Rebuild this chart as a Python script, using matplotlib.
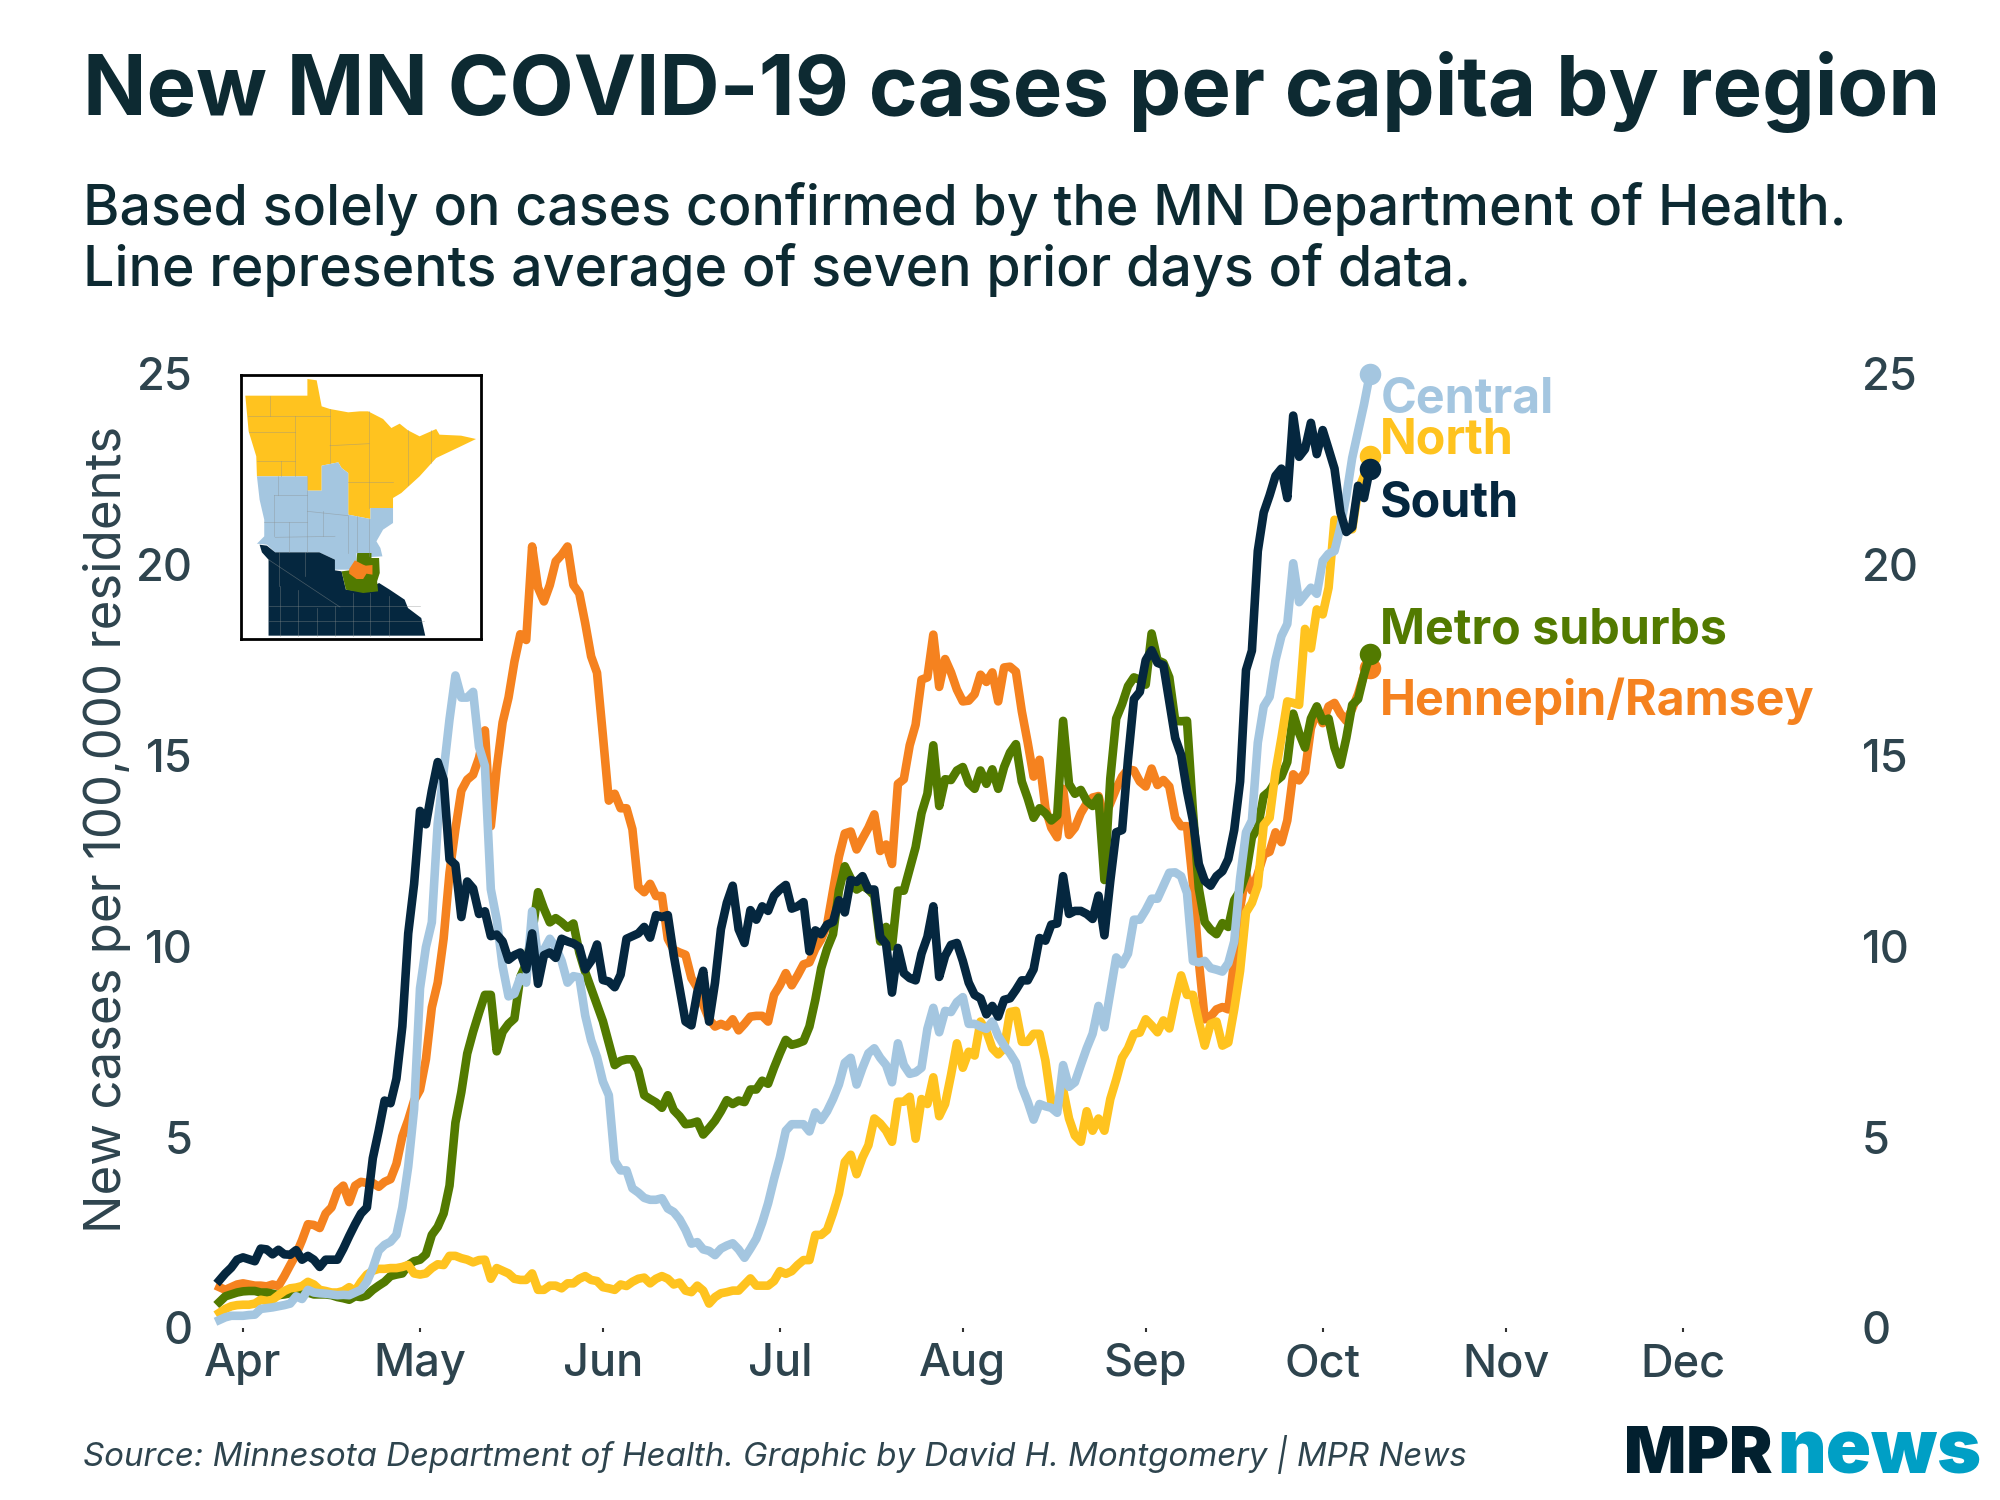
import matplotlib
matplotlib.use('Agg')
import matplotlib.pyplot as plt
import pandas as pd
from matplotlib.patches import Polygon

plt.rcParams['font.family'] = ['Inter', 'DejaVu Sans']
plt.rcParams['font.weight'] = 'medium'

start_date = '2020-03-28'

# daily values, cases per 100k
hennepin = [
    1.07, 1.0, 1.07, 1.14, 1.17, 1.14, 1.11, 1.11, 1.09, 1.14, 1.1, 1.36, 1.65, 1.93, 2.3, 2.72, 2.7, 2.62, 3.0, 3.16,
    3.59, 3.73, 3.3, 3.73, 3.83, 3.8, 3.8, 3.7, 3.83, 3.9, 4.3, 5.02, 5.45, 5.96, 6.24, 7.04, 8.4, 9.05, 10.2, 11.93,
    13.07, 14.08, 14.37, 14.5, 14.94, 15.66, 13.15, 14.66, 15.87, 16.52, 17.46, 18.18, 18.03, 20.48, 19.4, 19.04, 19.47, 20.09, 20.26, 20.48,
    19.47, 19.25, 18.47, 17.6, 17.17, 15.52, 13.82, 14.0, 13.62, 13.62, 13.07, 11.56, 11.42, 11.64, 11.32, 11.32, 10.2, 9.91, 9.84, 9.78,
    9.17, 8.92, 8.47, 8.09, 7.9, 7.97, 7.9, 8.09, 7.8, 7.97, 8.16, 8.18, 8.18, 8.03, 8.73, 8.98, 9.3, 8.98, 9.24, 9.53,
    9.58, 9.94, 10.19, 10.57, 11.46, 12.35, 12.96, 13.01, 12.54, 12.83, 13.11, 13.46, 12.5, 12.67, 12.16, 14.26, 14.38, 15.27, 15.81, 16.99,
    17.05, 18.17, 16.8, 17.53, 17.18, 16.73, 16.42, 16.44, 16.61, 17.12, 16.93, 17.18, 16.42, 17.31, 17.33, 17.2, 16.16, 15.34, 14.45, 14.89,
    13.62, 13.11, 12.86, 14.13, 12.92, 13.11, 13.49, 13.75, 13.9, 13.94, 13.37, 13.75, 14.13, 14.45, 14.64, 14.61, 14.32, 14.19, 14.66, 14.23,
    14.36, 14.19, 13.37, 13.15, 13.15, 11.65, 9.62, 8.09, 8.16, 8.35, 8.41, 8.35, 9.62, 11.0, 11.9, 11.46, 11.9, 12.41, 12.48, 12.99,
    12.73, 13.3, 14.51, 14.35, 14.57, 15.72, 16.16, 15.85, 16.29, 16.38, 16.1, 15.91, 16.23, 16.61, 17.12, 17.29,
]
suburbs = [
    0.68, 0.83, 0.88, 0.93, 0.96, 0.97, 0.97, 0.93, 0.93, 0.9, 0.86, 0.88, 0.91, 0.93, 0.91, 0.93, 0.88, 0.88, 0.88, 0.86,
    0.81, 0.78, 0.74, 0.83, 0.81, 0.86, 1.0, 1.11, 1.21, 1.36, 1.4, 1.43, 1.65, 1.75, 1.79, 1.93, 2.44, 2.65, 3.0, 3.73,
    5.38, 6.18, 7.19, 7.76, 8.26, 8.73, 8.73, 7.25, 7.76, 7.97, 8.11, 9.2, 9.55, 10.34, 11.42, 10.99, 10.63, 10.74, 10.63, 10.49,
    10.6, 9.84, 9.33, 8.9, 8.47, 8.04, 7.47, 6.89, 7.0, 7.04, 7.04, 6.75, 6.1, 6.0, 5.91, 5.77, 6.1, 5.71, 5.55, 5.34,
    5.36, 5.41, 5.07, 5.24, 5.43, 5.68, 5.97, 5.87, 5.96, 5.92, 6.25, 6.25, 6.48, 6.4, 6.82, 7.2, 7.55, 7.42, 7.46, 7.52,
    7.9, 8.6, 9.43, 9.94, 10.32, 11.46, 12.1, 11.78, 11.49, 11.59, 11.49, 11.33, 10.13, 10.51, 10.0, 11.46, 11.46, 12.03, 12.6, 13.49,
    14.0, 15.27, 13.68, 14.38, 14.36, 14.61, 14.7, 14.28, 14.13, 14.61, 14.26, 14.64, 14.13, 14.7, 15.08, 15.3, 14.32, 13.88, 13.37, 13.62,
    13.49, 13.3, 13.43, 15.91, 14.26, 14.0, 14.1, 13.81, 13.68, 13.9, 11.74, 14.4, 15.97, 16.35, 16.82, 17.05, 16.99, 16.86, 18.2, 17.5,
    17.43, 17.05, 15.91, 15.9, 15.91, 13.56, 11.52, 10.64, 10.44, 10.32, 10.61, 10.51, 11.21, 11.46, 11.9, 12.86, 13.11, 13.94, 14.07, 14.32,
    14.45, 14.83, 16.1, 15.59, 15.21, 15.97, 16.29, 15.91, 15.97, 15.21, 14.76, 15.46, 16.33, 16.48, 17.12, 17.65,
]
north = [
    0.4, 0.5, 0.57, 0.6, 0.61, 0.61, 0.64, 0.74, 0.71, 0.74, 0.86, 0.97, 1.04, 1.06, 1.1, 1.21, 1.14, 1.0, 0.97, 0.93,
    0.93, 0.97, 1.07, 0.97, 1.21, 1.4, 1.5, 1.55, 1.55, 1.57, 1.57, 1.6, 1.65, 1.43, 1.4, 1.43, 1.57, 1.67, 1.65, 1.89,
    1.89, 1.83, 1.79, 1.72, 1.78, 1.79, 1.29, 1.57, 1.5, 1.43, 1.29, 1.26, 1.26, 1.43, 1.0, 1.0, 1.11, 1.11, 1.04, 1.17,
    1.17, 1.29, 1.36, 1.26, 1.23, 1.07, 1.04, 1.0, 1.14, 1.1, 1.21, 1.29, 1.32, 1.17, 1.29, 1.36, 1.29, 1.14, 1.19, 0.98,
    0.94, 1.11, 0.98, 0.64, 0.81, 0.91, 0.94, 0.98, 0.98, 1.14, 1.3, 1.11, 1.11, 1.11, 1.23, 1.49, 1.42, 1.49, 1.65, 1.78,
    1.78, 2.44, 2.44, 2.57, 3.01, 3.52, 4.35, 4.54, 4.03, 4.47, 4.79, 5.49, 5.36, 5.17, 4.88, 5.93, 5.93, 6.06, 4.96, 6.0,
    5.87, 6.57, 5.55, 5.87, 6.63, 7.46, 6.82, 7.24, 7.14, 8.03, 7.78, 7.33, 7.17, 7.33, 8.28, 8.31, 7.5, 7.5, 7.71, 7.71,
    7.01, 5.93, 5.81, 6.25, 5.49, 5.04, 4.88, 5.68, 5.17, 5.49, 5.17, 6.0, 6.51, 7.08, 7.33, 7.71, 7.74, 8.09, 7.93, 7.75,
    8.06, 7.85, 8.6, 9.24, 8.73, 8.73, 8.03, 7.4, 7.97, 8.03, 7.4, 7.48, 8.35, 9.36, 10.89, 11.14, 11.59, 13.18, 13.37, 14.57,
    15.46, 16.42, 16.38, 16.33, 18.32, 17.81, 18.83, 18.7, 19.4, 21.18, 21.12, 20.93, 20.93, 21.94, 22.33, 22.86,
]
central = [
    0.21, 0.28, 0.32, 0.32, 0.32, 0.34, 0.35, 0.5, 0.52, 0.54, 0.57, 0.6, 0.64, 0.83, 0.76, 1.0, 0.93, 0.91, 0.9, 0.88,
    0.86, 0.87, 0.86, 0.93, 1.0, 1.21, 1.57, 2.03, 2.18, 2.26, 2.44, 3.16, 4.23, 5.74, 8.9, 9.98, 10.63, 13.22, 14.58, 15.95,
    17.1, 16.52, 16.52, 16.67, 15.23, 14.73, 11.5, 10.7, 9.48, 8.69, 8.76, 9.19, 9.05, 10.92, 9.7, 9.91, 10.2, 9.98, 9.62, 9.05,
    9.22, 9.19, 8.19, 7.54, 7.1, 6.46, 6.1, 4.38, 4.13, 4.13, 3.66, 3.55, 3.41, 3.36, 3.36, 3.4, 3.13, 3.04, 2.85, 2.57,
    2.21, 2.25, 2.06, 2.02, 1.91, 2.08, 2.16, 2.22, 2.06, 1.84, 2.08, 2.34, 2.76, 3.27, 3.9, 4.47, 5.17, 5.34, 5.34, 5.34,
    5.15, 5.65, 5.45, 5.68, 6.0, 6.38, 6.95, 7.08, 6.38, 6.82, 7.2, 7.33, 7.08, 6.89, 6.44, 7.46, 6.89, 6.66, 6.7, 6.82,
    7.84, 8.39, 7.75, 8.31, 8.28, 8.54, 8.67, 7.97, 7.97, 7.9, 7.84, 8.03, 7.65, 7.4, 7.2, 6.95, 6.32, 5.93, 5.46, 5.87,
    5.81, 5.77, 5.64, 6.89, 6.32, 6.44, 6.89, 7.33, 7.71, 8.44, 7.88, 8.79, 9.71, 9.53, 9.81, 10.7, 10.7, 10.95, 11.25, 11.25,
    11.59, 11.93, 11.94, 11.84, 11.4, 9.62, 9.58, 9.62, 9.43, 9.39, 9.34, 9.56, 10.13, 11.78, 12.99, 13.3, 15.34, 16.29, 16.54, 17.5,
    18.13, 18.45, 20.04, 19.02, 19.21, 19.4, 19.24, 20.1, 20.29, 20.36, 20.99, 21.8, 22.8, 23.5, 24.2, 25.0,
]
south = [
    1.25, 1.43, 1.58, 1.79, 1.85, 1.8, 1.75, 2.08, 2.06, 1.93, 2.05, 1.93, 1.92, 2.04, 1.79, 1.89, 1.79, 1.6, 1.79, 1.79,
    1.79, 2.08, 2.41, 2.72, 3.0, 3.16, 4.45, 5.17, 5.96, 5.89, 6.53, 7.9, 10.34, 11.64, 13.55, 13.2, 14.08, 14.83, 14.37, 12.28,
    12.14, 10.77, 11.7, 11.52, 10.85, 10.92, 10.27, 10.31, 10.13, 9.65, 9.77, 9.84, 9.4, 10.34, 9.02, 9.77, 9.84, 9.7, 10.2, 10.13,
    10.08, 9.98, 9.4, 9.62, 10.05, 9.12, 9.08, 8.93, 9.26, 10.2, 10.27, 10.34, 10.51, 10.23, 10.82, 10.77, 10.82, 9.77, 8.9, 8.03,
    7.93, 8.8, 9.36, 8.03, 9.05, 10.45, 11.14, 11.59, 10.45, 10.09, 10.95, 10.7, 11.05, 10.93, 11.33, 11.49, 11.61, 10.99, 11.05, 11.16,
    9.87, 10.42, 10.32, 10.57, 10.64, 11.21, 10.89, 11.74, 11.69, 11.84, 11.49, 11.49, 10.25, 10.06, 8.79, 9.96, 9.3, 9.17, 9.11, 9.81,
    10.25, 11.05, 9.2, 9.75, 10.04, 10.09, 9.62, 9.05, 8.73, 8.64, 8.22, 8.44, 8.16, 8.6, 8.64, 8.86, 9.11, 9.11, 9.4, 10.22,
    10.15, 10.57, 10.6, 11.84, 10.85, 10.93, 10.93, 10.85, 10.72, 11.33, 10.29, 11.72, 12.99, 13.05, 14.9, 16.48, 16.67, 17.5, 17.76, 17.43,
    17.37, 16.42, 15.46, 15.02, 14.07, 13.3, 12.16, 11.72, 11.59, 11.84, 11.97, 12.29, 13.05, 14.32, 17.24, 17.75, 20.36, 21.37, 21.82, 22.33,
    22.52, 21.75, 23.91, 22.83, 23.03, 23.72, 22.9, 23.53, 23.03, 22.52, 21.37, 20.86, 20.99, 22.07, 21.75, 22.52,
]

series_names = ['Hennepin/Ramsey', 'Metro suburbs', 'North', 'Central', 'South']
series_colors = ['#F5821F', '#527A00', '#FFC31F', '#A4C6E0', '#05273F']
label_values = [16.42, 18.27, 23.25, 24.32, 21.6]
month_ticks = ['2020-04-01', '2020-05-01', '2020-06-01', '2020-07-01', '2020-08-01',
               '2020-09-01', '2020-10-01', '2020-11-01', '2020-12-01']
month_labels = ['Apr', 'May', 'Jun', 'Jul', 'Aug', 'Sep', 'Oct', 'Nov', 'Dec']
y_ticks = [0, 5, 10, 15, 20, 25]

# rough county map for the inset, in pixels of the little picture
map_north = [(75, 108), (262, 108), (262, 58), (290, 62), (305, 140), (330, 148), (385, 158), (420, 155), (445, 155),
             (490, 178), (515, 205), (540, 192), (565, 212), (600, 230), (650, 208), (660, 225), (725, 228), (770, 238),
             (720, 262), (650, 295), (600, 350), (545, 400), (520, 415), (520, 445), (452, 445), (452, 478), (385, 465),
             (385, 340), (365, 325), (355, 308), (305, 318), (305, 393), (262, 393), (262, 350), (110, 350), (108, 290), (85, 215)]
map_central = [(110, 350), (262, 350), (262, 393), (305, 393), (305, 318), (355, 308), (365, 325), (385, 340), (385, 465),
               (452, 478), (452, 445), (520, 445), (520, 490), (490, 510), (470, 545), (482, 565), (488, 590), (455, 592),
               (410, 580), (410, 610), (395, 630), (345, 630), (345, 600), (298, 578), (165, 578), (140, 555), (110, 552),
               (132, 530), (132, 480), (118, 420)]
map_south = [(118, 555), (140, 558), (165, 578), (298, 578), (345, 600), (345, 632), (365, 635), (378, 690), (430, 695),
             (478, 670), (510, 690), (555, 720), (565, 745), (605, 775), (617, 828), (145, 828), (145, 600), (125, 578)]
map_suburbs = [(412, 580), (455, 580), (455, 595), (478, 595), (480, 640), (472, 665), (475, 695), (430, 700), (378, 690),
               (365, 635), (388, 632), (410, 605)]
map_hennepin = [(388, 628), (405, 602), (430, 615), (438, 618), (458, 616), (458, 645), (440, 642), (430, 658), (410, 658), (388, 642)]
county_lines = [((150, 108), (150, 168)), ((82, 168), (330, 168)), ((225, 168), (225, 350)), ((330, 148), (330, 310)),
                ((448, 155), (448, 445)), ((330, 258), (448, 252)), ((385, 368), (520, 368)), ((565, 212), (565, 375)),
                ((635, 210), (635, 310)), ((85, 218), (225, 218)), ((110, 305), (225, 305)), ((182, 305), (182, 350)),
                ((172, 350), (172, 405)), ((162, 405), (262, 405)), ((162, 405), (162, 530)), ((132, 488), (262, 488)),
                ((208, 488), (208, 578)), ((262, 350), (262, 578)), ((165, 533), (345, 530)), ((262, 455), (385, 468)),
                ((308, 455), (308, 530)), ((385, 468), (385, 580)), ((412, 470), (412, 580)), ((448, 478), (448, 590)),
                ((145, 738), (600, 738)), ((145, 785), (612, 785)), ((180, 680), (180, 828)), ((235, 690), (235, 828)),
                ((290, 745), (290, 828)), ((345, 740), (345, 828)), ((400, 700), (400, 828)), ((452, 700), (452, 828)),
                ((507, 710), (507, 828)), ((145, 600), (360, 742)), ((175, 578), (175, 680)), ((255, 578), (255, 650))]

dates = pd.date_range(start_date, periods=len(south))
all_series = [hennepin, suburbs, north, central, south]

fig = plt.figure(figsize=(20, 15), dpi=100, facecolor='white')
ax = fig.add_axes([200 / 2000, 1 - 1328 / 1500, 1650 / 2000, 954 / 1500])

for name, values, color, label_y in zip(series_names, all_series, series_colors, label_values):
    ax.plot(dates, values, color=color, lw=6.2, solid_joinstyle='round', clip_on=False)
    ax.plot(dates[-1], values[-1], 'o', color=color, ms=15.5, mew=0, clip_on=False)
    ax.annotate(name, (dates[-1], label_y), xytext=(7.5, 0), textcoords='offset points', color=color,
                fontsize=34.8, fontweight='bold', va='center', ha='left')

ax.set_xlim(pd.Timestamp('2020-03-24 17:00'), pd.Timestamp('2020-12-29 09:00'))
ax.set_ylim(0, 25)
ax.set_xticks(pd.to_datetime(month_ticks))
ax.set_xticklabels(month_labels)
ax.set_yticks(y_ticks)
ax.tick_params(axis='x', length=3, width=1.5, color='#333333', labelsize=32.5, labelcolor='#2E444E', pad=8)
ax.tick_params(axis='y', length=0, labelsize=32.5, labelcolor='#2E444E', pad=5)
ax.set_ylabel('New cases per 100,000 residents', fontsize=36.7, color='#2E444E')
ax.yaxis.set_label_coords(-0.042, 0.523)
for s in ax.spines.values():
    s.set_visible(False)

ax2 = ax.twinx()
ax2.set_ylim(0, 25)
ax2.set_yticks(y_ticks)
ax2.tick_params(axis='y', length=0, labelsize=32.5, labelcolor='#2E444E', pad=8.5)
for s in ax2.spines.values():
    s.set_visible(False)

# inset map
inset = fig.add_axes([241 / 2000, 1 - 639 / 1500, 240 / 2000, 264 / 1500])
inset.set_xlim(62, 785)
inset.set_ylim(838, 46)
inset.set_xticks([])
inset.set_yticks([])
for s in inset.spines.values():
    s.set_linewidth(2)
for shape, color in [(map_north, '#FFC31F'), (map_central, '#A4C6E0'), (map_south, '#05273F'),
                     (map_suburbs, '#527A00'), (map_hennepin, '#F5821F')]:
    inset.add_patch(Polygon(shape, closed=True, fc=color, ec='none'))
for a, b in county_lines:
    inset.plot([a[0], b[0]], [a[1], b[1]], color='#8a8f8f', lw=0.5, alpha=0.5)

fig.text(83 / 2000, 1 - 92 / 1500, 'New MN COVID-19 cases per capita by region', fontsize=60, fontweight='bold',
         color='#0D2A32', va='center', ha='left')
fig.text(83 / 2000, 1 - 209 / 1500, 'Based solely on cases confirmed by the MN Department of Health.', fontsize=40,
         color='#0D2A32', va='center', ha='left')
fig.text(83 / 2000, 1 - 270 / 1500, 'Line represents average of seven prior days of data.', fontsize=40,
         color='#0D2A32', va='center', ha='left')
fig.text(83 / 2000, 1 - 1454 / 1500, 'Source: Minnesota Department of Health. Graphic by David H. Montgomery | MPR News',
         fontsize=23.8, fontstyle='italic', fontweight='normal', color='#2E444E', va='center', ha='left')

# logo
fig.text(1624 / 2000, 1 - 1473 / 1500, 'MPR', fontsize=47, fontweight='black', color='#02202F', va='baseline', ha='left')
fig.text(1777 / 2000, 1 - 1473 / 1500, 'news', fontsize=54, fontweight='black', color='#009FC5', va='baseline', ha='left')

fig.savefig('out.png', dpi=100)
